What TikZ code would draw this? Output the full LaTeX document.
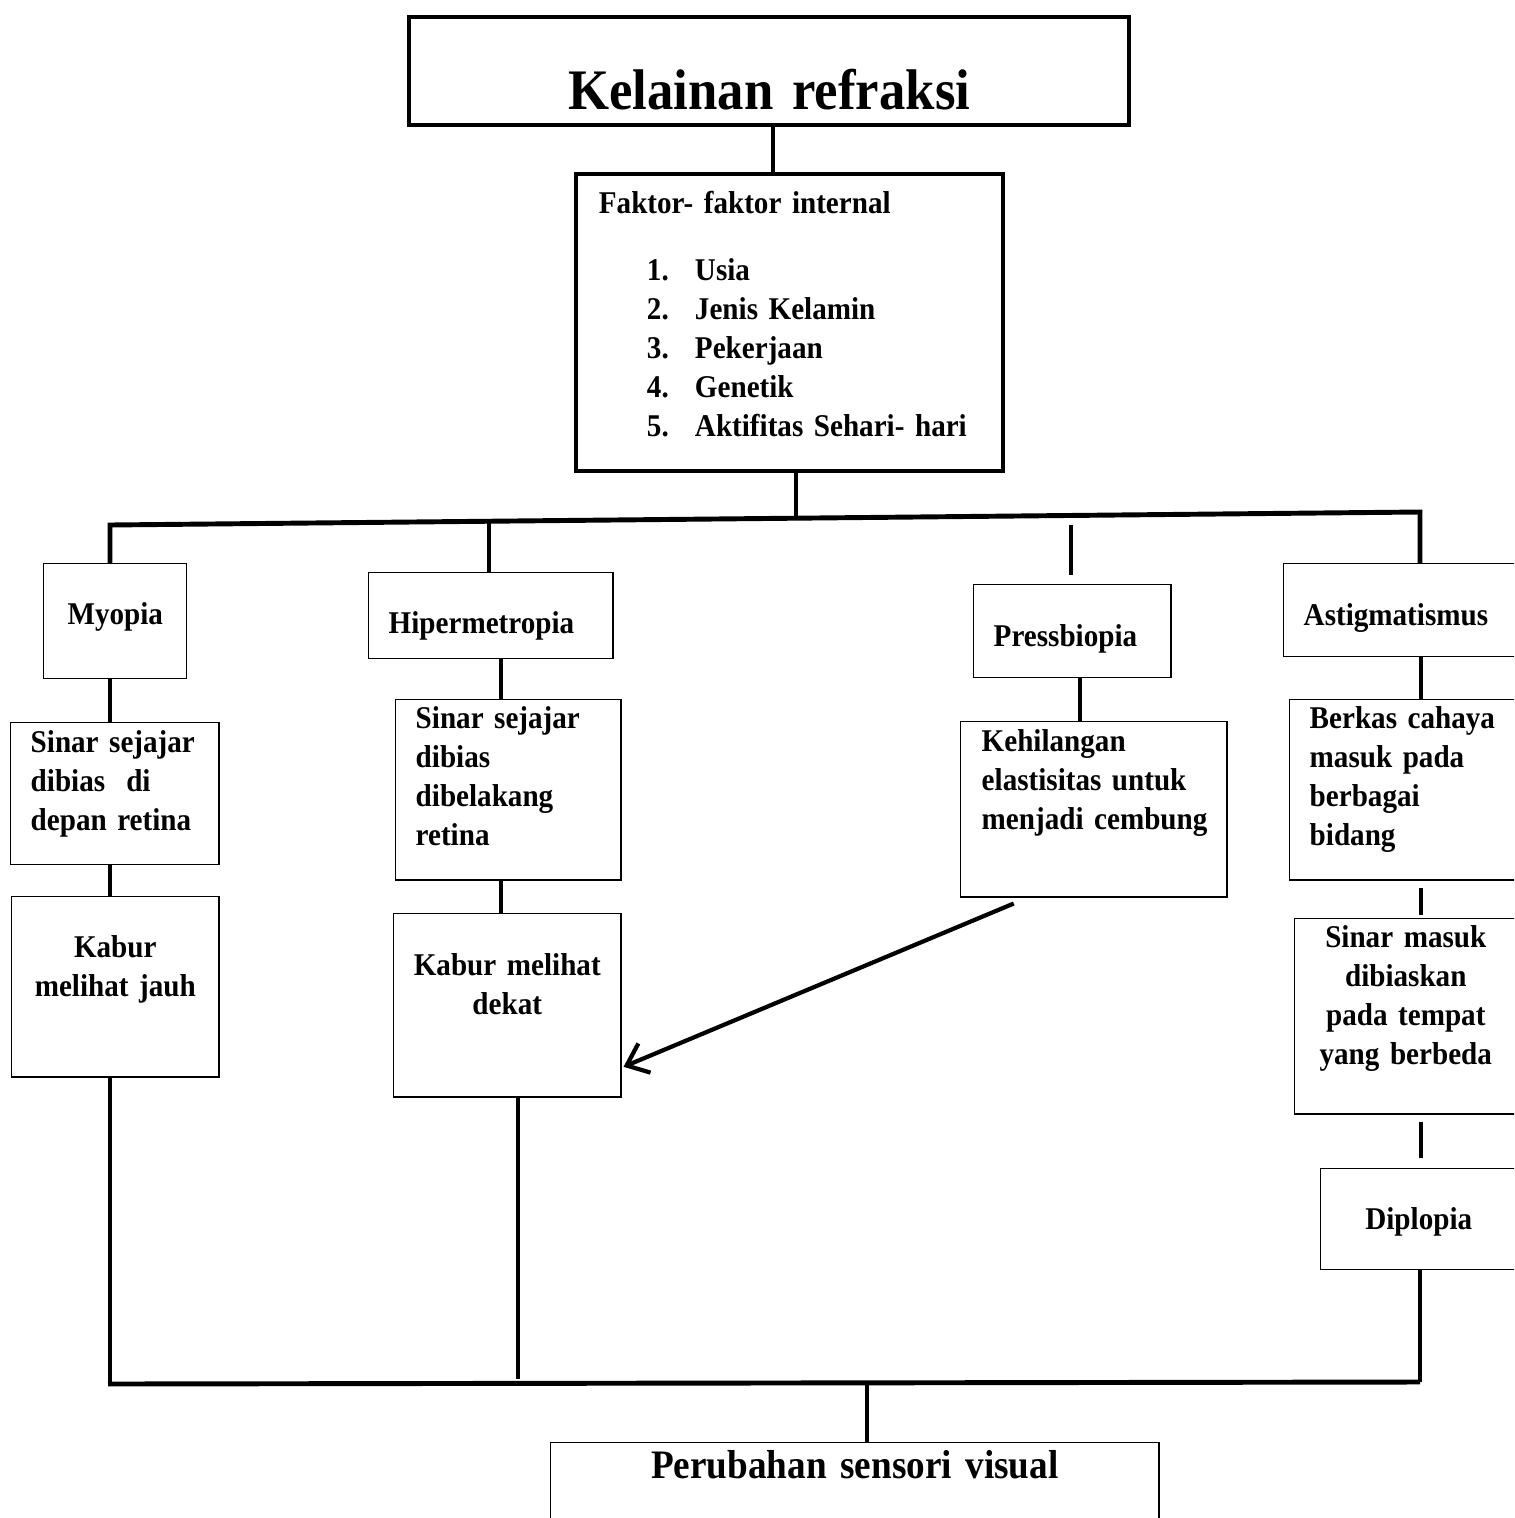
\documentclass[tikz,border=0pt]{standalone}
\usepackage{fontspec}
\setmainfont[FakeStretch=0.92]{Liberation Serif}
\usetikzlibrary{arrows.meta, positioning}
\hyphenpenalty=10000
\exhyphenpenalty=10000

\begin{document}
\begin{tikzpicture}[x=0.01cm, y=-0.01cm]
				\tikzset {box/.style={draw, line width=0.4pt, anchor=north west, inner xsep=0.2cm, inner ysep=0pt, align=left, font=\fontsize{9}{11.1}\selectfont\bfseries},
					bigbox/.style={box, line width=1.1pt},
					link/.style={line width=1.4pt},
					pointer/.style={line width=1.2pt, -{Straight Barb[length=5.5pt, width=9pt]}} }
					\clip (0,0) rectangle (1514,1518);
					
					\node[bigbox, align=center, text width=6.8cm, text height=0.93cm, text depth=0.15cm, font=\fontsize{16.3}{19}\selectfont\bfseries] (title) at (407,15) {Kelainan refraksi};
					\node[bigbox, inner xsep=0.23cm, text width=3.81cm, text height=0.40cm, text depth=2.57cm] (fak) at (574,172) {Faktor-~faktor~internal\\[0.27cm]
						\hspace*{0.48cm}\makebox[0.48cm][l]{1.}Usia\\
						\hspace*{0.48cm}\makebox[0.48cm][l]{2.}Jenis~Kelamin\\
						\hspace*{0.48cm}\makebox[0.48cm][l]{3.}Pekerjaan\\
						\hspace*{0.48cm}\makebox[0.48cm][l]{4.}Genetik\\
						\hspace*{0.48cm}\makebox[0.48cm][l]{5.}Aktifitas~Sehari-~hari};
					
					\node[box, align=center, text width=1.03cm, text height=0.61cm, text depth=0.54cm] (myo) at (43,563) {Myopia};
					\node[box, text width=1.68cm, text height=0.30cm, text depth=1.12cm] (myo1) at (10,722) {Sinar~sejajar\\dibias~~di\\depan~retina};
					\node[box, align=center, text width=1.67cm, text height=0.61cm, text depth=1.19cm] (myo2) at (11,896) {Kabur\\melihat~jauh};
					
					\node[box, text width=2.04cm, text height=0.61cm, text depth=0.25cm] (hip) at (368,572) {Hipermetropia};
					\node[box, text width=1.85cm, text height=0.29cm, text depth=1.51cm] (hip1) at (395,699) {Sinar~sejajar\\dibias\\dibelakang\\retina};
					\node[box, align=center, text width=1.87cm, text height=0.62cm, text depth=1.21cm] (hip2) at (393,913) {Kabur~melihat\\dekat};
					
					\node[box, text width=1.57cm, text height=0.62cm, text depth=0.31cm] (pre) at (973,584) {Pressbiopia};
					\node[box, inner xsep=0.21cm, text width=2.24cm, text height=0.30cm, text depth=1.45cm] (pre1) at (960,721) {Kehilangan\\elastisitas~untuk\\menjadi~cembung};
					
					\node[box, text width=2.2cm, text height=0.62cm, text depth=0.31cm] (ast) at (1283,563) {Astigmatismus};
					\node[box, text width=2.2cm, text height=0.29cm, text depth=1.51cm] (ast1) at (1289,699) {Berkas~cahaya\\masuk~pada\\berbagai\\bidang};
					\node[box, align=center, text width=1.82cm, text height=0.29cm, text depth=1.66cm] (ast2) at (1294,918) {Sinar~masuk\\dibiaskan\\pada~tempat\\yang~berbeda};
					\node[box, align=center, text width=1.56cm, text height=0.61cm, text depth=0.40cm] (dip) at (1320,1168) {Diplopia};
					
					\node[box, align=center, text width=5.68cm, text height=0.36cm, text depth=0.80cm, font=\fontsize{11.5}{14}\selectfont\bfseries] (out) at (550,1442) {Perubahan sensori visual};
					
					\coordinate (busL) at (110,525);
					\coordinate (busR) at (1420,512);
					\coordinate (busH) at (489,521);
					\coordinate (busF) at (796,517);
					\coordinate (busP) at (1071,525);
					\coordinate (botL) at (108,1384);
					\coordinate (botR) at (1420,1382);
					\coordinate (xT) at (773,0);
					\coordinate (xM) at (110,0);
					\coordinate (xH) at (501,0);
					\coordinate (xK) at (518,0);
					\coordinate (xP) at (1080,0);
					\coordinate (xA) at (1421,0);
					\coordinate (xO) at (867,0);
					
					\draw[link] (title.south -| xT) -- (fak.north -| xT);
					\draw[link] (fak.south -| busF) -- (busF);
					\draw[link] (myo.north -| busL) -- (busL) -- (busR) -- (ast.north -| busR);
					\draw[link] (busH) -- (hip.north -| busH);
					\draw[link, shorten >=0.09cm] (busP) -- (pre.north -| busP);
					
					\draw[link] (myo.south -| xM) -- (myo1.north -| xM);
					\draw[link] (myo1.south -| xM) -- (myo2.north -| xM);
					\draw[link] (myo2.south -| xM) -- (xM |- botL);
					
					\draw[link] (hip.south -| xH) -- (hip1.north -| xH);
					\draw[link] (hip1.south -| xH) -- (hip2.north -| xH);
					\draw[link, shorten >=0.05cm] (hip2.south -| xK) -- (xK |- botL);
					
					\draw[link] (pre.south -| xP) -- (pre1.north -| xP);
					\draw[pointer] ([xshift=-0.80cm, yshift=-0.06cm]pre1.south) -- ([xshift=0.02cm, yshift=-0.615cm]hip2.east);
					
					\draw[link] (ast.south -| xA) -- (ast1.north -| xA);
					\draw[link, shorten <=0.07cm, shorten >=0.03cm] (ast1.south -| xA) -- (ast2.north -| xA);
					\draw[link, shorten <=0.07cm, shorten >=0.10cm] (ast2.south -| xA) -- (dip.north -| xA);
					\draw[link] (dip.south -| botR) -- (botR);
					
					\draw[link] (botL) -- (botR);
					\draw[link] (xO |- botL) -- (out.north -| xO);
			\end{tikzpicture}
\end{document}
